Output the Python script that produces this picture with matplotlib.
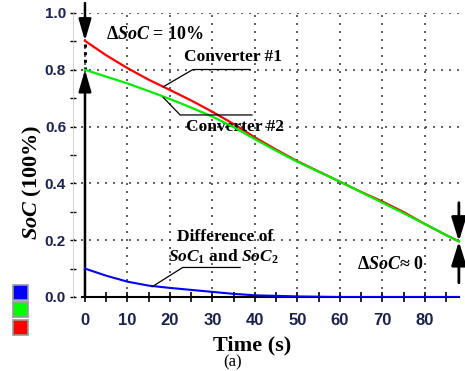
import matplotlib
matplotlib.use("Agg")
import matplotlib.pyplot as plt
from matplotlib.patches import Rectangle
from matplotlib.ticker import MultipleLocator

plt.rcParams['mathtext.fontset'] = 'custom'
plt.rcParams['mathtext.rm'] = 'Liberation Serif:bold'
plt.rcParams['mathtext.bf'] = 'Liberation Serif:bold'
plt.rcParams['mathtext.it'] = 'Liberation Serif:italic:bold'

# time (s) and state of charge
time = [0, 5, 10, 15, 20, 25, 30, 35, 40, 45, 50, 55, 60, 65, 70, 75, 80, 85, 88]
soc_conv1 = [0.902, 0.851, 0.806, 0.765, 0.729, 0.692, 0.652, 0.609, 0.562, 0.519,
             0.478, 0.442, 0.406, 0.370, 0.336, 0.299, 0.257, 0.218, 0.196]
soc_conv2 = [0.800, 0.776, 0.752, 0.725, 0.697, 0.667, 0.635, 0.598, 0.556, 0.515,
             0.476, 0.441, 0.406, 0.369, 0.332, 0.295, 0.257, 0.218, 0.196]
soc_diff = [0.100, 0.075, 0.054, 0.040, 0.032, 0.025, 0.018, 0.011, 0.006, 0.004,
            0.002, 0.001, 0.0, 0.0, 0.0, 0.0, 0.0, 0.0, 0.0]

navy = '#1b2150'
serif = 'Liberation Serif'

fig = plt.figure(figsize=(4.65, 3.71), dpi=100)
ax = fig.add_axes([73 / 465, 1 - 297 / 371, 388 / 465, 284 / 371])

ax.plot(time, soc_conv1, color='#ff0000', lw=1.6, zorder=3)
ax.plot(time, soc_conv2, color='#00ee00', lw=1.6, zorder=3.1)
ax.plot(time, soc_diff, color='#0000ff', lw=1.5, zorder=3.2)

ax.set_xlim(-2.82, 88.5)
ax.set_ylim(0, 1.0)

ax.xaxis.set_major_locator(MultipleLocator(10))
ax.xaxis.set_minor_locator(MultipleLocator(5))
ax.yaxis.set_major_locator(MultipleLocator(0.2))
ax.yaxis.set_minor_locator(MultipleLocator(0.1))
ax.set_xticks(range(0, 90, 10))
ax.set_xticklabels([str(v) for v in range(0, 90, 10)])

ax.grid(True, which='major', color='#444444', lw=1.2, linestyle=(0, (1.2, 3.6)))
ax.set_axisbelow(True)

for s in ['top', 'right']:
    ax.spines[s].set_visible(False)
ax.spines['left'].set_color('#cccccc')
ax.spines['left'].set_linewidth(0.6)
ax.spines['bottom'].set_bounds(-0.7, 88)
ax.spines['bottom'].set_linewidth(1.5)

ax.tick_params(axis='x', which='both', direction='inout', length=7, width=1.2,
               pad=8, labelsize=12, labelcolor=navy)
ax.tick_params(axis='y', which='both', direction='inout', length=4, width=1.0,
               pad=3, labelsize=11, labelcolor=navy)
for lab in ax.get_xticklabels() + ax.get_yticklabels():
    lab.set_fontweight('bold')
    lab.set_fontfamily('Liberation Sans')

# arrows marking the SoC gap at start and end
t0 = time[0]
t1 = time[-1]
arr = dict(arrowstyle='-|>,head_length=1.3,head_width=0.38', color='black',
           lw=1.8, shrinkA=0, shrinkB=0)
ax.annotate('', xy=(t0, soc_conv1[0]), xytext=(t0, 1.035), arrowprops=arr,
            annotation_clip=False)
ax.annotate('', xy=(t0, soc_conv2[0]), xytext=(t0, 0.0), arrowprops=arr,
            annotation_clip=False)
ax.vlines(t0, soc_conv2[0], soc_conv1[0], colors='black', lw=2.2,
          linestyles=(0, (1, 1.5)))

arr2 = dict(arrowstyle='-|>,head_length=1.45,head_width=0.45', color='black',
            lw=2.0, shrinkA=0, shrinkB=0)
ax.annotate('', xy=(t1, soc_conv2[-1]), xytext=(t1, 0.332), arrowprops=arr2,
            annotation_clip=False)
ax.annotate('', xy=(t1, soc_conv2[-1]), xytext=(t1, 0.05), arrowprops=arr2,
            annotation_clip=False)

# labels and leader lines
ax.text(16.5, 0.926, 'Δ$SoC$ = 10%', fontsize=13, family=serif,
        fontweight='bold', ha='center', va='center')
ax.text(34.8, 0.845, 'Converter #1', fontsize=12.5, family=serif,
        fontweight='bold', ha='center', va='center')
ax.plot([18.4, 25.4, 38.8], [0.740, 0.801, 0.801], color='black', lw=0.9,
        zorder=4)
ax.text(35.3, 0.598, 'Converter #2', fontsize=12.5, family=serif,
        fontweight='bold', ha='center', va='center')
ax.plot([18.4, 22.4, 39.3], [0.703, 0.641, 0.641], color='black', lw=0.9,
        zorder=4)
ax.text(32.9, 0.211, 'Difference of', fontsize=12.5, family=serif,
        fontweight='bold', ha='center', va='center')
ax.text(32.5, 0.140, '$SoC_1$ and $SoC_2$', fontsize=12.5, family=serif,
        fontweight='bold', ha='center', va='center')
ax.plot([15.8, 23.0, 36.5], [0.036, 0.104, 0.104], color='black', lw=0.9,
        zorder=4)
ax.text(72.0, 0.113, 'Δ$SoC$≈ 0', fontsize=13, family=serif,
        fontweight='bold', ha='center', va='center')

# axis titles
fig.text(32 / 465, 1 - 182 / 371, '$SoC$ (100%)', rotation=90, fontsize=16,
         family=serif, fontweight='bold', ha='center', va='center')
fig.text(252 / 465, 1 - 345 / 371, 'Time (s)', fontsize=16, family=serif,
         fontweight='bold', ha='center', va='center')
fig.text(233 / 465, 1 - 362 / 371, '(a)', fontsize=12, family=serif,
         ha='center', va='center')

# colour key squares at the left
for y0, c in [(285, '#0000ff'), (302, '#00ff00'), (320, '#ff0000')]:
    fig.patches.append(Rectangle((13 / 465, 1 - (y0 + 15) / 371), 15 / 465,
                                 15 / 371, transform=fig.transFigure,
                                 facecolor=c, edgecolor='#999999', lw=1.2))

fig.savefig('out.png', dpi=100)
